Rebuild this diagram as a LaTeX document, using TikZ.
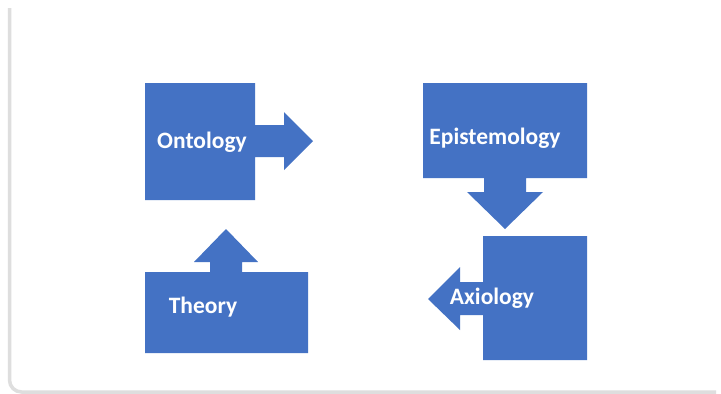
\documentclass[tikz,border=0pt]{standalone}
\usepackage{fontspec}
\setmainfont{Carlito}
\definecolor{offblue}{HTML}{4472C4}
\definecolor{framegray}{HTML}{DEDEDE}
\begin{document}
\begin{tikzpicture}[x=1pt,y=-1pt,
  shapefill/.style={fill=offblue,draw=none},
  lbl/.style={text=white,font=\fontsize{23.5}{26}\selectfont\bfseries,inner sep=0pt},
  frame/.style={draw=framegray,line width=3.5pt,rounded corners=12pt}]
\useasboundingbox (0,0) rectangle (721,394);
\fill[white] (0,0) rectangle (721,394);
% frame
\draw[frame] (9.5,8) -- (9.5,392) -- (716,392);
% Ontology
\path[shapefill] (145,83) -- (255,83) -- (255,125) -- (284,125) -- (284,112) -- (313,141) -- (284,170) -- (284,157) -- (255,157) -- (255,200) -- (145,200) -- cycle;
% Theory
\path[shapefill] (145,272) -- (210,272) -- (210,262) -- (194,262) -- (226,229) -- (258,262) -- (242,262) -- (242,272) -- (308,272) -- (308,353) -- (145,353) -- cycle;
% Epistemology
\path[shapefill] (423,83) -- (587,83) -- (587,178) -- (526,178) -- (526,192) -- (543,192) -- (505,229) -- (467,192) -- (484,192) -- (484,178) -- (423,178) -- cycle;
% Axiology
\path[shapefill] (483,236) -- (587,236) -- (587,360) -- (483,360) -- (483,315) -- (460,315) -- (460,330) -- (428,299) -- (460,267) -- (460,282) -- (483,282) -- cycle;
\node[lbl] (ont) at (202,142) {Ontology};
\node[lbl] (the) at (203,307) {Theory};
\node[lbl] (epi) at (495,138) {Epistemology};
\node[lbl] (axi) at (492,298) {Axiology};
\end{tikzpicture}
\end{document}
